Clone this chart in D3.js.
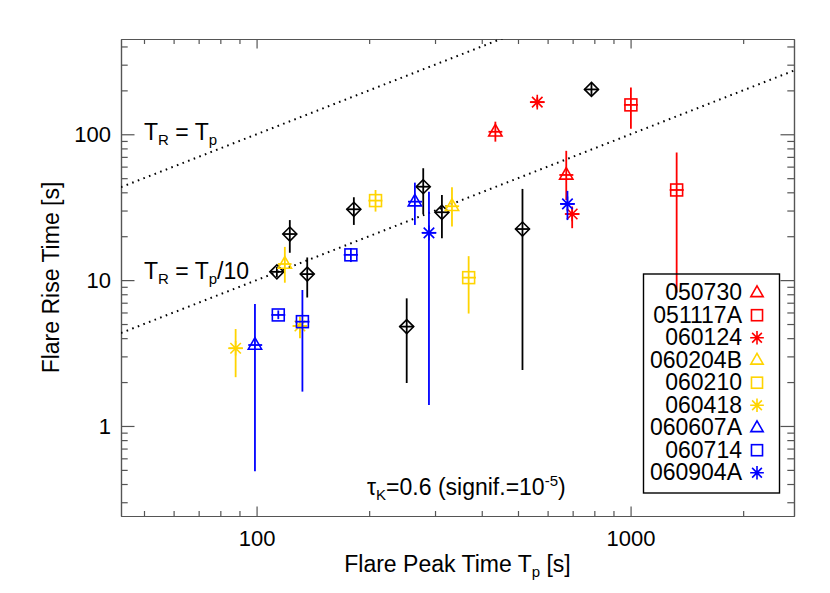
<!DOCTYPE html>
<meta charset="utf-8">
<title>Flare rise time vs peak time</title>
<style>
    body {
        margin: 0;
        background: #fff;
    }
    text {
        font-family: "Liberation Sans", Arial, Helvetica, sans-serif;
        fill: #000;
    }
    .axis path, .axis line {
        stroke: #555;
        stroke-width: 1.2;
    }
</style>

<body>
    <div id="chart"></div>

    <script src="https://cdn.jsdelivr.net/npm/d3@7"></script>
    <script>
        // GRB names in legend order
        var grbNames = ["050730", "051117A", "060124", "060204B", "060210", "060418", "060607A", "060714", "060904A"];
        var grbColors = ["red", "red", "red", "#ffd400", "#ffd400", "#ffd400", "blue", "blue", "blue"];
        var grbSymbols = ["triangle", "square", "star", "triangle", "square", "star", "triangle", "square", "star"];

        // one entry per flare ("" = sample without legend entry, black diamonds)
        var flareGrb = ["", "", "", "", "", "", "", "", "",
            "050730", "050730", "051117A", "051117A", "060124", "060124",
            "060204B", "060204B", "060210", "060210", "060418", "060418",
            "060607A", "060607A", "060714", "060714", "060714", "060904A", "060904A"];
        var peakTime = [113.3, 122.7, 136.6, 182, 252, 279, 313, 514, 786,
            435, 673, 1002, 1328, 563, 698,
            119, 333, 208, 369, 87.9, 130.6,
            99, 265, 114.3, 132.6, 178.7, 289, 678];
        var peakLo = [108.5, 117.5, 131, 174, 241, 267, 300, 492, 752,
            417, 645, 960, 1272, 540, 669,
            114, 319, 199, 354, 84.2, 125,
            95, 254, 109.5, 127, 171, 277, 649];
        var peakHi = [118.3, 128, 142.6, 190, 263, 291, 327, 537, 821,
            454, 703, 1046, 1387, 588, 729,
            124, 348, 217, 386, 91.8, 136.4,
            103.5, 277, 119.3, 138.5, 186.6, 302, 708];
        var riseTime = [11.4, 20.7, 11.0, 30.6, 4.8, 43.7, 29.2, 22.4, 203,
            104, 52.6, 159, 41.5, 166, 28.4,
            12.9, 32.1, 35.1, 10.4, 3.41, 4.85,
            3.59, 34.5, 5.77, 5.19, 14.9, 21.1, 33.3];
        var riseLo = [10.5, 15.4, 7.6, 23.9, 1.97, 28.4, 19.4, 2.42, 186,
            89, 35.4, 109, 8.2, 153, 22.7,
            9.6, 23.3, 29.5, 5.9, 2.16, 3.99,
            0.49, 23.9, 5.4, 1.72, 13.3, 1.39, 25.8];
        var riseHi = [12.3, 25.8, 14.3, 37.0, 7.5, 58.5, 38.4, 42.2, 225,
            122, 77, 209, 75, 179, 31.9,
            16.9, 43.3, 41.5, 14.6, 4.62, 5.62,
            6.86, 46.6, 6.2, 8.56, 16.6, 40.4, 40.9];

        var xMajor = [100, 1000];
        var xMinor = [50, 60, 70, 80, 90, 200, 300, 400, 500, 600, 700, 800, 900, 2000];
        var yMajor = [1, 10, 100];
        var yMinor = [0.3, 0.4, 0.5, 0.6, 0.7, 0.8, 0.9, 2, 3, 4, 5, 6, 7, 8, 9, 20, 30, 40, 50, 60, 70, 80, 90, 200, 300, 400];

        var W = 830, H = 593;
        var pL = 121, pR = 794, pT = 39, pB = 516;

        var svg = d3.select("#chart").append("svg")
            .attr("width", W)
            .attr("height", H);

        var x = d3.scaleLog().domain([43.4, 2735]).range([pL, pR]);
        var y = d3.scaleLog().domain([0.2414, 450]).range([pB, pT]);

        // clip for the dotted lines
        svg.append("clipPath").attr("id", "plotclip")
            .append("rect")
            .attr("x", pL).attr("y", pT)
            .attr("width", pR - pL).attr("height", pB - pT);

        // axes (ticks pointing inward, mirrored on top / right)
        var fmt = function(d) { return d3.format("d")(d); };
        var none = function() { return ""; };
        function addAxis(axisFn, vals, size, tf, transform, pad) {
            svg.append("g")
                .attr("class", "axis")
                .attr("transform", transform)
                .call(axisFn.tickValues(vals).tickSizeInner(-size).tickSizeOuter(0).tickPadding(pad).tickFormat(tf))
                .call(function(g) { g.selectAll("text").style("font-size", "22px").attr("fill", "#000"); });
        }
        addAxis(d3.axisBottom(x), xMajor, 9.6, fmt, "translate(0," + pB + ")", 14);
        addAxis(d3.axisBottom(x), xMinor, 5, none, "translate(0," + pB + ")", 14);
        addAxis(d3.axisTop(x), xMajor, 9.6, none, "translate(0," + pT + ")", 14);
        addAxis(d3.axisTop(x), xMinor, 5, none, "translate(0," + pT + ")", 14);
        addAxis(d3.axisLeft(y), yMajor, 13.5, fmt, "translate(" + pL + ",0)", 10);
        addAxis(d3.axisLeft(y), yMinor, 6.7, none, "translate(" + pL + ",0)", 10);
        addAxis(d3.axisRight(y), yMajor, 13.5, none, "translate(" + pR + ",0)", 10);
        addAxis(d3.axisRight(y), yMinor, 6.7, none, "translate(" + pR + ",0)", 10);
        svg.selectAll(".axis .tick text").filter(function() { return this.textContent === ""; }).remove();

        // axis titles
        var xt = svg.append("text")
            .attr("x", (pL + pR) / 2)
            .attr("y", 572)
            .attr("text-anchor", "middle")
            .style("font-size", "23px");
        xt.append("tspan").text("Flare Peak Time T");
        xt.append("tspan").attr("dy", 5).style("font-size", "15px").text("p");
        xt.append("tspan").attr("dy", -5).text(" [s]");

        svg.append("text")
            .attr("transform", "translate(59," + ((pT + pB) / 2) + ") rotate(-90)")
            .attr("text-anchor", "middle")
            .style("font-size", "23px")
            .text("Flare Rise Time [s]");

        // reference lines T_R = T_p and T_R = T_p / 10
        var ratios = [1, 0.1];
        var line = d3.line().x(function(d) { return x(d[0]); }).y(function(d) { return y(d[1]); });
        ratios.forEach(function(r) {
            svg.append("path")
                .attr("clip-path", "url(#plotclip)")
                .attr("d", line([[43.4, 43.4 * r], [2735, 2735 * r]]))
                .attr("fill", "none")
                .attr("stroke", "#000")
                .attr("stroke-width", 2)
                .attr("stroke-dasharray", "1.6,4.4");
        });

        function trLabel(yy, tail) {
            var t = svg.append("text").attr("x", 144).attr("y", yy).style("font-size", "23px");
            t.append("tspan").text("T");
            t.append("tspan").attr("dy", 5).style("font-size", "15px").text("R");
            t.append("tspan").attr("dy", -5).text(" = T");
            t.append("tspan").attr("dy", 5).style("font-size", "15px").text("p");
            t.append("tspan").attr("dy", -5).text(tail);
        }
        trLabel(140, "");
        trLabel(279, "/10");

        // marker drawing
        function drawMarker(g, type, color, size) {
            var s = size;
            if (type == "triangle") {
                g.append("path").attr("d", "M0," + (-s * 1.05) + "L" + (s * 0.95) + "," + (s * 0.6) + "L" + (-s * 0.95) + "," + (s * 0.6) + "Z");
            } else if (type == "square") {
                g.append("rect").attr("x", -s * 0.85).attr("y", -s * 0.85).attr("width", s * 1.7).attr("height", s * 1.7);
            } else if (type == "diamond") {
                g.append("path").attr("d", "M0," + (-s) + "L" + s + ",0L0," + s + "L" + (-s) + ",0Z");
            } else if (type == "star") {
                var a = s * 1.05, b = s * 0.75;
                g.append("path").attr("d", "M" + (-a) + ",0L" + a + ",0M0," + (-a) + "L0," + a +
                    "M" + (-b) + "," + (-b) + "L" + b + "," + b + "M" + (-b) + "," + b + "L" + b + "," + (-b));
            }
            g.selectAll("*").attr("fill", "none").attr("stroke", color).attr("stroke-width", 1.6);
        }

        // data points with error bars
        var pts = svg.append("g");
        d3.range(peakTime.length).forEach(function(i) {
            var k = grbNames.indexOf(flareGrb[i]);
            var color = k < 0 ? "#000" : grbColors[k];
            var type = k < 0 ? "diamond" : grbSymbols[k];
            var g = pts.append("g");
            g.append("line")
                .attr("x1", x(peakTime[i])).attr("x2", x(peakTime[i]))
                .attr("y1", y(riseLo[i])).attr("y2", y(riseHi[i]))
                .attr("stroke", color).attr("stroke-width", 1.8);
            g.append("line")
                .attr("x1", x(peakLo[i])).attr("x2", x(peakHi[i]))
                .attr("y1", y(riseTime[i])).attr("y2", y(riseTime[i]))
                .attr("stroke", color).attr("stroke-width", 1.8);
            var m = g.append("g").attr("transform", "translate(" + x(peakTime[i]) + "," + y(riseTime[i]) + ")");
            drawMarker(m, type, color, 7);
        });

        // Kendall tau annotation
        var tau = svg.append("text").attr("x", 367).attr("y", 495).style("font-size", "23px");
        tau.append("tspan").text("\u03c4");
        tau.append("tspan").attr("dy", 5).style("font-size", "15px").text("K");
        tau.append("tspan").attr("dy", -5).text("=0.6 (signif.=10");
        tau.append("tspan").attr("dy", -9).style("font-size", "15px").text("-5");
        tau.append("tspan").attr("dy", 9).text(")");

        // legend
        var lg = svg.append("g");
        lg.append("rect")
            .attr("x", 643.5).attr("y", 274)
            .attr("width", 136).attr("height", 219)
            .attr("fill", "none").attr("stroke", "#000").attr("stroke-width", 1.4);
        grbNames.forEach(function(n, k) {
            var yy = 291.7 + k * 22.5;
            lg.append("text")
                .attr("x", 742).attr("y", yy + 8.5)
                .attr("text-anchor", "end")
                .style("font-size", "23px")
                .text(n);
            var m = lg.append("g").attr("transform", "translate(757," + (yy + 1) + ")");
            drawMarker(m, grbSymbols[k], grbColors[k], 6.5);
        });
    </script>
</body>
